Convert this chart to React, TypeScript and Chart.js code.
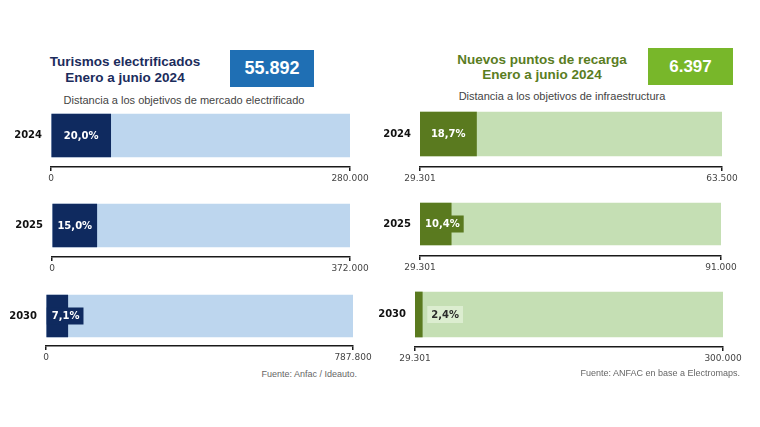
import React, { useEffect, useRef } from 'react';
import { Chart, registerables } from 'chart.js';

Chart.register(...registerables);

// ---------- DATA ----------
const leftYears = ['2024', '2025', '2030'];
const leftBase = 0;
const leftCurrent = 55892; // Turismos electrificados, enero-junio 2024
const leftTargets = [280000, 372000, 787800];

const rightYears = ['2024', '2025', '2030'];
const rightBase = 29301;
const rightNew = 6397; // Nuevos puntos de recarga, enero-junio 2024
const rightTargets = [63500, 91000, 300000];

// ---------- STYLE / LAYOUT ----------
const Y_W = 50;
const X_H = 22;
const PAD_R = 30;

const leftGeom = [
  { l: 51, r: 350, t: 114, b: 157, ax: 167 },
  { l: 52, r: 350, t: 204, b: 247, ax: 257 },
  { l: 46, r: 353, t: 295, b: 337, ax: 346 },
];
const rightGeom = [
  { l: 420, r: 722, t: 112, b: 156, ax: 167 },
  { l: 420, r: 721, t: 203, b: 245, ax: 256 },
  { l: 415, r: 723, t: 292, b: 337, ax: 347 },
];

const BLUE = { dark: '#0f2a5f', light: '#bdd6ee', tiny: '#dbe9f6' };
const GREEN = { dark: '#5a7a1f', light: '#c5dfb4', tiny: '#dcedd0' };

const fmt = (v: number) =>
  Math.round(v)
    .toString()
    .replace(/\B(?=(\d{3})+(?!\d))/g, '.');

const pctText = (base: number, cur: number, target: number) =>
  (((cur - base) / (target - base)) * 100).toFixed(1).replace('.', ',') + '%';

const pctLabelPlugin = {
  id: 'pctLabel',
  afterDatasetsDraw(chart: any, _args: any, opts: any) {
    const meta = chart.getDatasetMeta(0);
    const el: any = meta.data[0];
    if (!el) return;
    const { x, base, y } = el.getProps(['x', 'base', 'y'], true);
    const ctx = chart.ctx as CanvasRenderingContext2D;
    ctx.save();
    ctx.font = 'bold 10px "DejaVu Sans"';
    ctx.textBaseline = 'middle';
    const text: string = opts.text;
    const tw = ctx.measureText(text).width;
    const barW = x - base;
    const boxH = 17;
    if (tw + 8 <= barW) {
      ctx.fillStyle = '#ffffff';
      ctx.textAlign = 'center';
      ctx.fillText(text, base + barW / 2, y + 0.5);
    } else if (barW >= 12) {
      ctx.fillStyle = opts.dark;
      ctx.fillRect(base, y - boxH / 2, tw + 9, boxH);
      ctx.fillStyle = '#ffffff';
      ctx.textAlign = 'left';
      ctx.fillText(text, base + 5, y + 0.5);
    } else {
      ctx.fillStyle = opts.tiny;
      ctx.fillRect(x + 5, y - boxH / 2, tw + 8, boxH);
      ctx.fillStyle = '#2b2b2b';
      ctx.textAlign = 'left';
      ctx.fillText(text, x + 9, y + 0.5);
    }
    ctx.restore();
  },
};

type GaugeProps = {
  year: string;
  base: number;
  current: number;
  target: number;
  colors: { dark: string; light: string; tiny: string };
  g: { l: number; r: number; t: number; b: number; ax: number };
};

function Gauge({ year, base, current, target, colors, g }: GaugeProps) {
  const ref = useRef<HTMLCanvasElement | null>(null);
  const gap = g.ax - g.b;
  const chartTop = g.t - gap;
  const width = Y_W + (g.r - g.l) + PAD_R;
  const height = g.ax - chartTop + X_H;
  const barH = g.b - g.t;

  useEffect(() => {
    if (!ref.current) return;
    const chart = new Chart(ref.current, {
      type: 'bar',
      data: {
        labels: [year],
        datasets: [
          {
            data: [[base, current]] as any,
            backgroundColor: colors.dark,
            grouped: false,
            order: 0,
            barThickness: barH,
            borderWidth: 0,
            borderSkipped: false,
          } as any,
          {
            data: [[base, target]] as any,
            backgroundColor: colors.light,
            grouped: false,
            order: 1,
            barThickness: barH,
            borderWidth: 0,
            borderSkipped: false,
          } as any,
        ],
      },
      options: {
        indexAxis: 'y',
        animation: false,
        responsive: false,
        maintainAspectRatio: false,
        events: [],
        layout: { padding: { left: 0, right: PAD_R, top: 0, bottom: 0 } },
        plugins: {
          legend: { display: false },
          tooltip: { enabled: false },
          pctLabel: { text: pctText(base, current, target), dark: colors.dark, tiny: colors.tiny },
        } as any,
        scales: {
          x: {
            type: 'linear',
            position: 'bottom',
            min: base,
            max: target,
            afterBuildTicks: (s: any) => {
              s.ticks = [{ value: base }, { value: target }];
            },
            afterFit: (s: any) => {
              s.height = X_H;
            },
            grid: {
              display: true,
              drawOnChartArea: false,
              drawTicks: true,
              tickLength: 4,
              color: '#1a1a1a',
              lineWidth: 1.5,
            },
            border: { display: true, color: '#1a1a1a', width: 1.5 },
            ticks: {
              callback: (v: any) => fmt(Number(v)),
              font: { family: 'DejaVu Sans', size: 9 },
              color: '#444444',
              padding: 2,
              maxRotation: 0,
              autoSkip: false,
            },
          },
          y: {
            type: 'category',
            afterFit: (s: any) => {
              s.width = Y_W;
              s.paddingTop = 0;
              s.paddingBottom = 0;
            },
            grid: { display: false, drawTicks: false },
            border: { display: false },
            ticks: {
              font: { family: 'DejaVu Sans', size: 10, weight: 'bold' },
              color: '#111111',
              padding: 9,
            },
          },
        },
      } as any,
      plugins: [pctLabelPlugin as any],
    });
    return () => chart.destroy();
  }, [year, base, current, target]);

  return (
    <canvas
      ref={ref}
      width={width}
      height={height}
      style={{ position: 'absolute', left: g.l - Y_W, top: chartTop, width, height }}
    />
  );
}

const abs = (s: React.CSSProperties): React.CSSProperties => ({ position: 'absolute', ...s });

export default function App() {
  const rightCurrent = rightBase + rightNew;
  return (
    <div
      style={{
        position: 'absolute',
        left: 0,
        top: 0,
        width: 760,
        height: 427,
        background: '#ffffff',
        overflow: 'hidden',
        fontFamily: '"Liberation Sans", Arial, sans-serif',
      }}
    >
      {/* Left header */}
      <div
        style={abs({
          left: 25,
          top: 54,
          width: 200,
          textAlign: 'center',
          fontWeight: 'bold',
          fontSize: 13.5,
          lineHeight: '15.5px',
          color: '#1b2c5c',
        })}
      >
        Turismos electrificados
        <br />
        Enero a junio 2024
      </div>
      <div
        style={abs({
          left: 230,
          top: 50,
          width: 84,
          height: 37,
          background: '#1f6fb4',
          color: '#ffffff',
          fontWeight: 'bold',
          fontSize: 18,
          lineHeight: '37px',
          textAlign: 'center',
        })}
      >
        {fmt(leftCurrent)}
      </div>
      <div
        style={abs({
          left: 34,
          top: 93,
          width: 300,
          textAlign: 'center',
          fontSize: 11,
          lineHeight: '14px',
          color: '#444444',
        })}
      >
        Distancia a los objetivos de mercado electrificado
      </div>

      {/* Right header */}
      <div
        style={abs({
          left: 442,
          top: 53,
          width: 200,
          textAlign: 'center',
          fontWeight: 'bold',
          fontSize: 13.5,
          lineHeight: '14.5px',
          color: '#5a7d1f',
        })}
      >
        Nuevos puntos de recarga
        <br />
        Enero a junio 2024
      </div>
      <div
        style={abs({
          left: 648,
          top: 48,
          width: 85,
          height: 37,
          background: '#78b72a',
          color: '#ffffff',
          fontWeight: 'bold',
          fontSize: 17,
          lineHeight: '37px',
          textAlign: 'center',
        })}
      >
        {fmt(rightNew)}
      </div>
      <div
        style={abs({
          left: 412,
          top: 89,
          width: 300,
          textAlign: 'center',
          fontSize: 11,
          lineHeight: '14px',
          color: '#444444',
        })}
      >
        Distancia a los objetivos de infraestructura
      </div>

      {leftYears.map((y, i) => (
        <Gauge
          key={'l' + y}
          year={y}
          base={leftBase}
          current={leftCurrent}
          target={leftTargets[i]}
          colors={BLUE}
          g={leftGeom[i]}
        />
      ))}
      {rightYears.map((y, i) => (
        <Gauge
          key={'r' + y}
          year={y}
          base={rightBase}
          current={rightCurrent}
          target={rightTargets[i]}
          colors={GREEN}
          g={rightGeom[i]}
        />
      ))}

      <div
        style={abs({
          left: 157,
          top: 368,
          width: 200,
          textAlign: 'right',
          fontSize: 9,
          lineHeight: '12px',
          color: '#666666',
        })}
      >
        Fuente: Anfac / Ideauto.
      </div>
      <div
        style={abs({
          left: 440,
          top: 367,
          width: 300,
          textAlign: 'right',
          fontSize: 9,
          lineHeight: '12px',
          color: '#666666',
        })}
      >
        Fuente: ANFAC en base a Electromaps.
      </div>
    </div>
  );
}
